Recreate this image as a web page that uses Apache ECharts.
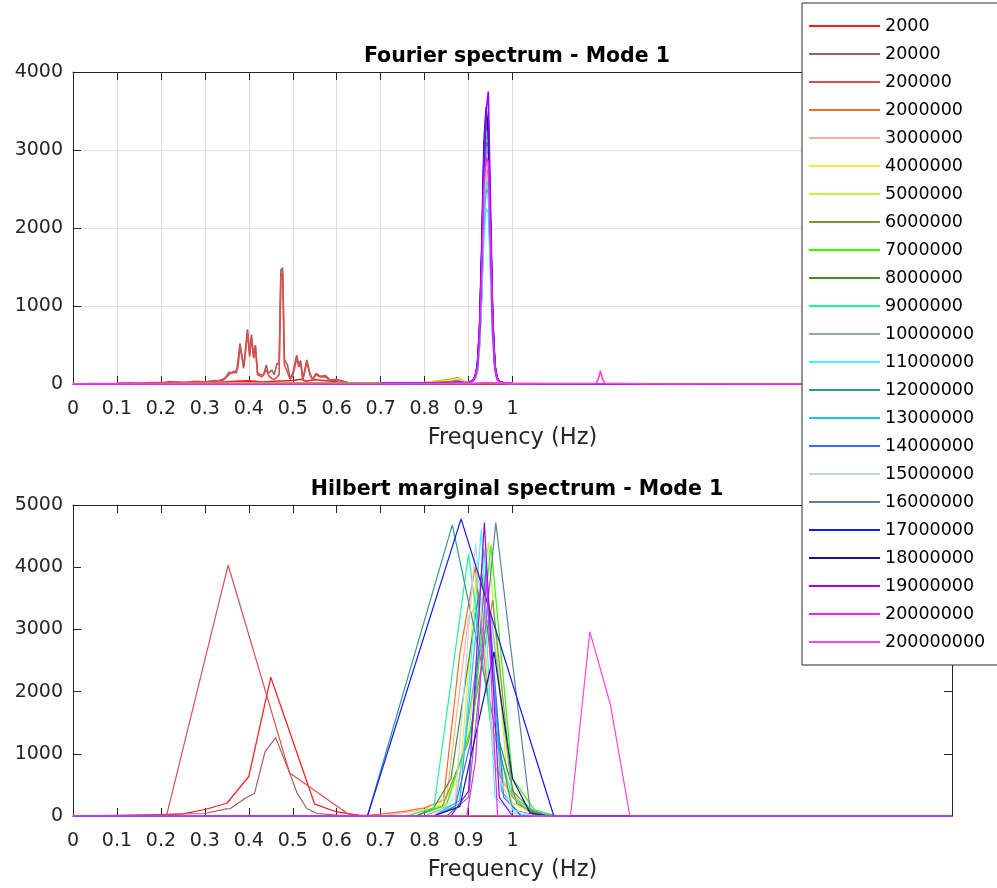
<!DOCTYPE html>
<html>
<head>
<meta charset="utf-8">
<script src="https://cdn.jsdelivr.net/npm/echarts@6/dist/echarts.min.js"></script>
<style>
html, body { margin: 0; padding: 0; background: #ffffff; }
#chart { width: 997px; height: 888px; }
</style>
</head>
<body>
<div id="chart"></div>
<script>
// Run labels (legend order) and their line colours
const runNames = ['2000', '20000', '200000', '2000000', '3000000', '4000000', '5000000',
  '6000000', '7000000', '8000000', '9000000', '10000000', '11000000', '12000000',
  '13000000', '14000000', '15000000', '16000000', '17000000', '18000000', '19000000',
  '20000000', '200000000'];
const runColors = ['#ff1a1a', '#a35f5f', '#d9504f', '#ff6a1a', '#f2b49a', '#ffe23a', '#c8f23a',
  '#7a9a22', '#2cff00', '#3f8f22', '#20f59a', '#8fae9c', '#45f2f2', '#2f9a8f',
  '#22c2e8', '#3a6ff2', '#c2d2ee', '#5f7f9f', '#1414ff', '#14148f', '#9a00ff',
  '#ee22ff', '#ff44e4'];

// Frequency tick labels (Hz)
const freqTicks = [0, 0.1, 0.2, 0.3, 0.4, 0.5, 0.6, 0.7, 0.8, 0.9, 1];

// ---------- Fourier spectrum, low-frequency runs: [frequency, amplitude] ----------
const fourier_2000 = [[0, 0], [0.1, 3], [0.15, 6], [0.2, 10], [0.22, 18], [0.25, 10], [0.28, 16], [0.3, 12],
  [0.33, 20], [0.35, 28], [0.37, 35], [0.4, 40], [0.43, 25], [0.46, 35], [0.5, 45], [0.52, 60], [0.53, 35],
  [0.55, 55], [0.57, 45], [0.59, 35], [0.6, 25], [0.62, 20], [0.65, 14], [0.7, 10], [0.8, 6], [1, 3], [2, 0]];
const fourier_20000 = [[0, 0], [0.05, 5], [0.1, 8], [0.13, 15], [0.15, 10], [0.18, 20], [0.2, 12], [0.22, 30],
  [0.25, 20], [0.28, 35], [0.3, 25], [0.32, 45], [0.34, 40], [0.355, 120], [0.365, 160], [0.372, 140],
  [0.38, 520], [0.388, 200], [0.397, 700], [0.402, 350], [0.406, 635], [0.411, 350], [0.415, 500],
  [0.42, 137], [0.433, 110], [0.44, 245], [0.444, 137], [0.452, 180], [0.458, 120], [0.464, 265],
  [0.469, 250], [0.473, 1460], [0.477, 1490], [0.481, 310], [0.488, 245], [0.494, 73], [0.5, 137],
  [0.509, 370], [0.514, 245], [0.518, 300], [0.523, 60], [0.532, 310], [0.539, 137], [0.545, 60],
  [0.553, 137], [0.562, 100], [0.574, 110], [0.585, 50], [0.6, 60], [0.625, 20], [0.65, 15], [0.7, 10],
  [0.8, 5], [1, 3], [2, 0]];
const fourier_200000 = [[0, 0], [0.05, 4], [0.1, 6], [0.13, 12], [0.16, 9], [0.19, 18], [0.21, 14], [0.23, 26],
  [0.26, 18], [0.29, 30], [0.31, 24], [0.33, 40], [0.345, 70], [0.355, 150], [0.365, 140], [0.375, 200],
  [0.38, 480], [0.389, 230], [0.397, 660], [0.402, 380], [0.406, 600], [0.411, 330], [0.415, 470],
  [0.42, 120], [0.43, 90], [0.44, 180], [0.446, 100], [0.452, 70], [0.458, 60], [0.464, 90], [0.469, 120],
  [0.473, 1380], [0.477, 1420], [0.481, 250], [0.488, 150], [0.494, 60], [0.5, 100], [0.509, 330],
  [0.514, 220], [0.518, 270], [0.523, 50], [0.532, 280], [0.539, 120], [0.545, 50], [0.553, 120],
  [0.562, 90], [0.574, 95], [0.585, 40], [0.6, 50], [0.625, 18], [0.65, 12], [0.7, 8], [0.8, 4], [1, 2], [2, 0]];
const fourier_200000000 = [[0, 0], [0.9, 5], [0.94, 20], [1, 5], [1.19, 10], [1.195, 60], [1.2, 170],
  [1.205, 60], [1.21, 10], [1.3, 3], [2, 0]];

// ---------- Fourier spectrum, runs peaking near 0.94 Hz: shared frequency grid ----------
const spikeFreq = [0, 0.7, 0.8, 0.86, 0.875, 0.89, 0.9, 0.91, 0.915, 0.92, 0.925, 0.93, 0.935, 0.94,
  0.945, 0.95, 0.955, 0.96, 0.965, 0.97, 0.98, 1.0, 1.1, 1.5, 2.0];
const fourier_2000000 = [0, 15, 20, 60, 80, 30, 25, 50, 90, 200, 600, 1400, 2300, 2800, 2700, 1700, 700, 200, 70, 30, 15, 8, 4, 2, 0];
const fourier_3000000 = [0, 10, 15, 40, 55, 25, 20, 40, 70, 160, 500, 1200, 2100, 2650, 2500, 1500, 600, 180, 60, 25, 12, 6, 3, 1, 0];
const fourier_4000000 = [0, 12, 18, 50, 70, 30, 20, 45, 80, 180, 550, 1300, 2400, 2950, 2900, 1800, 700, 200, 70, 30, 15, 7, 3, 2, 0];
const fourier_5000000 = [0, 10, 15, 35, 45, 25, 20, 45, 85, 190, 560, 1350, 2500, 3050, 3100, 1900, 750, 220, 70, 30, 14, 7, 3, 1, 0];
const fourier_6000000 = [0, 8, 12, 30, 40, 20, 18, 40, 75, 170, 520, 1250, 2300, 2800, 2750, 1700, 650, 190, 60, 25, 12, 6, 3, 1, 0];
const fourier_7000000 = [0, 8, 12, 25, 35, 20, 18, 45, 90, 210, 620, 1450, 2600, 3150, 3200, 2000, 800, 230, 75, 30, 14, 7, 3, 1, 0];
const fourier_8000000 = [0, 8, 10, 25, 35, 20, 18, 40, 80, 190, 580, 1350, 2450, 2900, 2850, 1750, 700, 200, 65, 28, 13, 6, 3, 1, 0];
const fourier_9000000 = [0, 6, 10, 20, 30, 18, 16, 40, 75, 170, 520, 1250, 2200, 2600, 2550, 1600, 650, 190, 60, 25, 12, 6, 3, 1, 0];
const fourier_10000000 = [0, 6, 10, 20, 30, 18, 16, 42, 80, 180, 560, 1300, 2400, 2950, 3000, 1850, 720, 210, 68, 28, 13, 6, 3, 1, 0];
const fourier_11000000 = [0, 5, 8, 15, 25, 15, 14, 35, 70, 160, 480, 1100, 1900, 2250, 2200, 1400, 560, 170, 55, 24, 11, 5, 2, 1, 0];
const fourier_12000000 = [0, 5, 8, 15, 25, 16, 15, 45, 90, 210, 640, 1500, 2700, 3300, 3250, 2000, 800, 230, 75, 30, 14, 7, 3, 1, 0];
const fourier_13000000 = [0, 5, 8, 15, 22, 15, 14, 38, 72, 165, 500, 1150, 2100, 2500, 2450, 1550, 620, 180, 58, 25, 12, 6, 3, 1, 0];
const fourier_14000000 = [0, 5, 8, 15, 22, 15, 14, 42, 85, 200, 600, 1400, 2550, 3100, 3050, 1900, 760, 220, 70, 30, 14, 7, 3, 1, 0];
const fourier_15000000 = [0, 5, 8, 15, 22, 15, 14, 40, 78, 180, 540, 1300, 2350, 2800, 2750, 1700, 680, 200, 65, 28, 13, 6, 3, 1, 0];
const fourier_16000000 = [0, 5, 8, 15, 22, 15, 14, 45, 95, 220, 680, 1600, 2850, 3400, 3300, 2000, 800, 230, 75, 30, 14, 7, 3, 1, 0];
const fourier_17000000 = [0, 5, 8, 15, 22, 15, 14, 46, 95, 230, 700, 1650, 2900, 3450, 3350, 2050, 820, 240, 78, 32, 15, 7, 3, 1, 0];
const fourier_18000000 = [0, 5, 8, 15, 22, 15, 14, 48, 100, 240, 740, 1800, 3100, 3550, 3200, 1950, 780, 230, 75, 30, 14, 7, 3, 1, 0];
const fourier_19000000 = [0, 5, 8, 15, 22, 15, 14, 48, 100, 230, 700, 1650, 2900, 3500, 3750, 2300, 900, 260, 80, 32, 15, 7, 3, 1, 0];
const fourier_20000000 = [0, 5, 8, 15, 22, 15, 14, 42, 85, 200, 600, 1450, 2550, 2900, 2850, 1800, 720, 210, 68, 28, 13, 6, 3, 1, 0];

// ---------- Hilbert marginal spectrum: [frequency, amplitude] ----------
const hilbert_2000 = [[0, 0], [0.15, 5], [0.2, 20], [0.25, 35], [0.3, 105], [0.35, 205], [0.4, 635], [0.45, 2230], [0.55, 190], [0.6, 65], [0.65, 15], [0.7, 0], [2, 0]];
const hilbert_20000 = [[0, 0], [0.3, 40], [0.348, 115], [0.358, 120], [0.392, 285], [0.413, 365], [0.437, 1035], [0.461, 1260], [0.493, 690], [0.51, 365], [0.532, 120], [0.555, 40], [0.6, 15], [0.65, 0], [2, 0]];
const hilbert_200000 = [[0, 0], [0.213, 10], [0.353, 4035], [0.493, 690], [0.627, 30], [0.66, 0], [2, 0]];
const hilbert_2000000 = [[0, 0], [0.65, 0], [0.7, 30], [0.75, 70], [0.8, 130], [0.843, 255], [0.88, 2600], [0.915, 4000], [0.96, 800], [1.0, 300], [1.05, 60], [1.1, 10], [1.15, 0], [2, 0]];
const hilbert_3000000 = [[0, 0], [0.7, 0], [0.8, 100], [0.85, 300], [0.9, 3200], [0.94, 3600], [0.98, 500], [1.03, 150], [1.08, 0], [2, 0]];
const hilbert_4000000 = [[0, 0], [0.75, 0], [0.83, 150], [0.88, 600], [0.92, 4100], [0.96, 900], [1.0, 200], [1.05, 30], [1.1, 0], [2, 0]];
const hilbert_5000000 = [[0, 0], [0.78, 0], [0.85, 200], [0.9, 1300], [0.945, 4400], [0.99, 400], [1.04, 60], [1.1, 0], [2, 0]];
const hilbert_6000000 = [[0, 0], [0.78, 0], [0.84, 150], [0.9, 1200], [0.955, 3470], [1.0, 400], [1.05, 50], [1.1, 0], [2, 0]];
const hilbert_7000000 = [[0, 0], [0.78, 0], [0.85, 180], [0.91, 1500], [0.951, 4357], [1.0, 600], [1.05, 100], [1.1, 0], [2, 0]];
const hilbert_8000000 = [[0, 0], [0.78, 0], [0.82, 120], [0.86, 600], [0.93, 3900], [0.97, 1200], [1.01, 200], [1.06, 0], [2, 0]];
const hilbert_9000000 = [[0, 0], [0.76, 0], [0.821, 130], [0.9, 4213], [0.95, 1500], [1.0, 300], [1.05, 80], [1.1, 0], [2, 0]];
const hilbert_10000000 = [[0, 0], [0.8, 0], [0.87, 200], [0.92, 2500], [0.95, 3300], [1.0, 300], [1.05, 0], [2, 0]];
const hilbert_11000000 = [[0, 0], [0.82, 0], [0.88, 200], [0.929, 4610], [0.96, 300], [1.0, 50], [1.05, 0], [2, 0]];
const hilbert_12000000 = [[0, 0], [0.67, 0], [0.863, 4680], [1.0, 100], [1.05, 20], [1.1, 0], [2, 0]];
const hilbert_13000000 = [[0, 0], [0.82, 0], [0.88, 250], [0.935, 4300], [0.975, 400], [1.02, 0], [2, 0]];
const hilbert_14000000 = [[0, 0], [0.82, 0], [0.87, 150], [0.905, 1200], [0.94, 4000], [0.98, 300], [1.02, 0], [2, 0]];
const hilbert_15000000 = [[0, 0], [0.82, 0], [0.87, 300], [0.916, 4390], [0.96, 800], [1.0, 100], [1.05, 0], [2, 0]];
const hilbert_16000000 = [[0, 0], [0.85, 0], [0.9, 300], [0.962, 4717], [1.04, 100], [1.08, 0], [2, 0]];
const hilbert_17000000 = [[0, 0], [0.67, 0], [0.883, 4776], [1.094, 0], [2, 0]];
const hilbert_18000000 = [[0, 0], [0.82, 0], [0.88, 150], [0.958, 2640], [1.0, 600], [1.04, 50], [1.08, 0], [2, 0]];
const hilbert_19000000 = [[0, 0], [0.86, 0], [0.9, 400], [0.936, 4717], [0.97, 300], [1.0, 0], [2, 0]];
const hilbert_20000000 = [[0, 0], [0.896, 0], [0.916, 900], [0.941, 3850], [0.966, 0], [2, 0]];
const hilbert_200000000 = [[0, 0], [1.132, 0], [1.176, 2964], [1.223, 1785], [1.267, 0], [2, 0]];

// Pair the shared frequency grid with one run's amplitudes
function onSpikeGrid(amps) {
  return spikeFreq.map((f, k) => [f, amps[k]]);
}

const fourierData = [fourier_2000, fourier_20000, fourier_200000,
  onSpikeGrid(fourier_2000000), onSpikeGrid(fourier_3000000), onSpikeGrid(fourier_4000000),
  onSpikeGrid(fourier_5000000), onSpikeGrid(fourier_6000000), onSpikeGrid(fourier_7000000),
  onSpikeGrid(fourier_8000000), onSpikeGrid(fourier_9000000), onSpikeGrid(fourier_10000000),
  onSpikeGrid(fourier_11000000), onSpikeGrid(fourier_12000000), onSpikeGrid(fourier_13000000),
  onSpikeGrid(fourier_14000000), onSpikeGrid(fourier_15000000), onSpikeGrid(fourier_16000000),
  onSpikeGrid(fourier_17000000), onSpikeGrid(fourier_18000000), onSpikeGrid(fourier_19000000),
  onSpikeGrid(fourier_20000000), fourier_200000000];
const hilbertData = [hilbert_2000, hilbert_20000, hilbert_200000, hilbert_2000000, hilbert_3000000,
  hilbert_4000000, hilbert_5000000, hilbert_6000000, hilbert_7000000, hilbert_8000000, hilbert_9000000,
  hilbert_10000000, hilbert_11000000, hilbert_12000000, hilbert_13000000, hilbert_14000000,
  hilbert_15000000, hilbert_16000000, hilbert_17000000, hilbert_18000000, hilbert_19000000,
  hilbert_20000000, hilbert_200000000];

// ---------- styling ----------
const FONT = 'DejaVu Sans';
const INK = '#262626';
const GRID_GRAY = '#dfdfdf';

// vertical grid lines only up to 1 Hz (ticks 0..2 step 0.1 → 21 lines)
const vGridColors = [];
for (let i = 0; i <= 20; i++) vGridColors.push(i <= 10 ? GRID_GRAY : 'rgba(0,0,0,0)');

const fmtFreq = v => String(Math.round(v * 10) / 10);
const fmtAmp = v => String(Math.round(v));

function freqAxes(gridIndex, withGrid) {
  const bottom = {
    gridIndex, type: 'value', min: 0, max: 2, interval: 0.1, position: 'bottom',
    axisLine: { show: true, onZero: false, lineStyle: { color: INK, width: 1 } },
    axisTick: { show: true, inside: true, length: 8, customValues: freqTicks, lineStyle: { color: INK, width: 1 } },
    axisLabel: { customValues: freqTicks, formatter: fmtFreq, fontFamily: FONT, fontSize: 19, color: INK, margin: 16 },
    splitLine: { show: withGrid, lineStyle: { color: vGridColors, width: 1 } },
    name: 'Frequency (Hz)', nameLocation: 'middle', nameGap: 43,
    nameTextStyle: { fontFamily: FONT, fontSize: 22.5, color: INK }
  };
  const top = {
    gridIndex, type: 'value', min: 0, max: 2, interval: 0.1, position: 'top',
    axisLine: { show: true, onZero: false, lineStyle: { color: INK, width: 1 } },
    axisTick: { show: true, inside: true, length: 8, customValues: freqTicks, lineStyle: { color: INK, width: 1 } },
    axisLabel: { show: false }, splitLine: { show: false }
  };
  return [bottom, top];
}

function ampAxes(gridIndex, yMax, withGrid) {
  const left = {
    gridIndex, type: 'value', min: 0, max: yMax, interval: 1000, position: 'left',
    axisLine: { show: true, onZero: false, lineStyle: { color: INK, width: 1 } },
    axisTick: { show: true, inside: true, length: 8, lineStyle: { color: INK, width: 1 } },
    axisLabel: { formatter: fmtAmp, fontFamily: FONT, fontSize: 19, color: INK, margin: 10 },
    splitLine: { show: withGrid, lineStyle: { color: GRID_GRAY, width: 1 } }
  };
  const right = {
    gridIndex, type: 'value', min: 0, max: yMax, interval: 1000, position: 'right',
    axisLine: { show: true, onZero: false, lineStyle: { color: INK, width: 1 } },
    axisTick: { show: true, inside: true, length: 8, lineStyle: { color: INK, width: 1 } },
    axisLabel: { show: false }, splitLine: { show: false }
  };
  return [left, right];
}

const series = [];
runNames.forEach((name, i) => {
  series.push({
    name, type: 'line', xAxisIndex: 0, yAxisIndex: 0, data: fourierData[i],
    symbol: 'none', color: runColors[i], lineStyle: { width: 1.6, color: runColors[i] }
  });
});
runNames.forEach((name, i) => {
  series.push({
    name, type: 'line', xAxisIndex: 2, yAxisIndex: 2, data: hilbertData[i],
    symbol: 'none', color: runColors[i], lineStyle: { width: 1.2, color: runColors[i] }
  });
});

const option = {
  backgroundColor: '#ffffff',
  animation: false,
  title: [
    { text: 'Fourier spectrum - Mode 1', left: 512, top: 41, textAlign: 'center',
      textStyle: { fontFamily: FONT, fontWeight: 'bold', fontSize: 20.5, color: '#000' } },
    { text: 'Hilbert marginal spectrum - Mode 1', left: 512, top: 474, textAlign: 'center',
      textStyle: { fontFamily: FONT, fontWeight: 'bold', fontSize: 20.5, color: '#000' } }
  ],
  grid: [
    { left: 73, top: 72, width: 879, height: 312 },
    { left: 73, top: 505, width: 879, height: 311 }
  ],
  xAxis: [...freqAxes(0, true), ...freqAxes(1, false)],
  yAxis: [...ampAxes(0, 4000, true), ...ampAxes(1, 5000, false)],
  legend: {
    data: runNames, orient: 'vertical', left: 802, top: 3,
    icon: 'rect', itemWidth: 71, itemHeight: 2, itemGap: 8,
    padding: [13, 20, 13, 7],
    borderColor: INK, borderWidth: 1, backgroundColor: '#ffffff',
    selectedMode: false,
    textStyle: { fontFamily: FONT, fontSize: 17.5, color: '#000', lineHeight: 20 }
  },
  series
};

const chart = echarts.init(document.getElementById('chart'), null, { renderer: 'canvas' });
chart.setOption(option);
</script>
</body>
</html>
